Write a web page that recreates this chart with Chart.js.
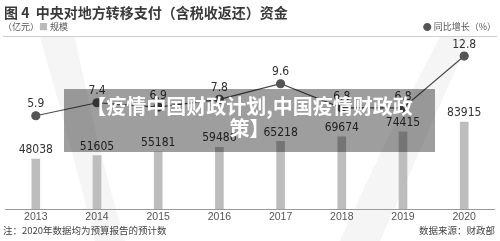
<!DOCTYPE html>
<html>
<head>
<meta charset="utf-8">
<script src="https://cdn.jsdelivr.net/npm/chart.js@4/dist/chart.umd.min.js"></script>
<style>
  html, body { margin: 0; padding: 0; background: #fff; }
  #wrap { position: relative; width: 500px; height: 241px; overflow: hidden; font-family: "Noto Sans CJK SC", "Noto Sans", sans-serif; }
  #bg { position: absolute; left: 0; top: 0; }
  canvas#c { position: absolute; left: 0; top: 0; }
  .t { position: absolute; white-space: nowrap; }
  #title { left: 4px; top: 3px; font-size: 14px; font-weight: bold; color: #3a3a3a; line-height: 18px; }
  #unit { left: 3px; top: 21px; font-size: 9px; color: #555; line-height: 12px; }
  #legR { right: 4px; top: 21px; font-size: 9px; color: #555; line-height: 12px; }
  #rule { position: absolute; left: 3px; top: 36px; width: 494px; height: 1px; background: #cfcfcf; }
  #note { left: 3px; top: 224px; font-size: 9.5px; color: #444; line-height: 12px; }
  #src { right: 5px; top: 224px; font-size: 9.5px; color: #444; line-height: 12px; }
  #overlay { position: absolute; left: 64px; top: 89px; width: 371px; height: 63px; background: rgba(0,0,0,0.38); color: #fff; font-weight: bold; font-size: 20px; line-height: 21.5px; text-align: center; padding-top: 6px; box-sizing: border-box; white-space: nowrap; }
</style>
</head>
<body>
<div id="wrap">
  <svg id="bg" width="500" height="241">
    <path d="M40 37 Q70 140 95 241 L125 241 Q95 140 75 37 Z" fill="#f5f5f5"/>
    <path d="M440 37 Q380 150 340 241 L380 241 Q420 150 470 37 Z" fill="#f5f5f5"/>
  </svg>
  <canvas id="c" width="500" height="241"></canvas>
  <div class="t" id="title">图 4&nbsp; 中央对地方转移支付（含税收返还）资金</div>
  <div class="t" id="unit">（亿元）<span style="color:#bbb">■</span> 规模</div>
  <div class="t" id="legR"><span style="color:#555">●</span> 同比增长（%）</div>
  <div id="rule"></div>
  <div class="t" id="note">注：2020年数据均为预算报告的预计数</div>
  <div class="t" id="src">数据来源：财政部</div>
  <div id="overlay">【疫情中国财政计划,中国疫情财政政<br>策】</div>
</div>
<script>
const categories = ["2013", "2014", "2015", "2016", "2017", "2018", "2019", "2020"];
const scaleValues = [48038, 51605, 55181, 59486, 65218, 69674, 74415, 83915];
const growthValues = [5.9, 7.4, 6.9, 7.8, 9.6, 6.8, 6.8, 12.8];

const labelFont = '12px "Liberation Sans Narrow", "DejaVu Sans Condensed", sans-serif';

const valueLabels = {
  id: 'valueLabels',
  afterDatasetsDraw(chart) {
    const ctx = chart.ctx;
    ctx.save();
    ctx.font = labelFont;
    ctx.fillStyle = '#333';
    ctx.textAlign = 'center';
    ctx.textBaseline = 'middle';
    chart.data.datasets.forEach((ds, i) => {
      const meta = chart.getDatasetMeta(i);
      meta.data.forEach((el, j) => {
        const off = ds.type === 'bar' ? 9 : 11.5;
        ctx.fillText(String(ds.data[j]), el.x, el.y - off);
      });
    });
    ctx.restore();
  }
};

new Chart(document.getElementById('c'), {
  data: {
    labels: categories,
    datasets: [
      {
        type: 'line',
        label: '同比增长（%）',
        data: growthValues,
        yAxisID: 'yl',
        order: 0,
        borderColor: '#4a4a4a',
        borderWidth: 1.2,
        pointBackgroundColor: '#555',
        pointBorderColor: '#555',
        pointRadius: 4,
        tension: 0
      },
      {
        type: 'bar',
        label: '规模',
        data: scaleValues,
        yAxisID: 'yb',
        order: 1,
        backgroundColor: '#bdbdbd',
        barThickness: 8
      }
    ]
  },
  options: {
    responsive: false,
    devicePixelRatio: 1,
    animation: false,
    layout: { padding: { top: 39, left: 2, right: 3, bottom: 0 } },
    plugins: { legend: { display: false }, tooltip: { enabled: false } },
    scales: {
      x: {
        grid: { display: false, drawTicks: false },
        border: { display: true, color: '#9a9a9a', width: 1 },
        ticks: { color: '#555', font: { family: '"Liberation Sans", Arial, sans-serif', size: 10.5 }, padding: 2 },
        afterFit(scale) { scale.height = 32; }
      },
      yb: { display: false, min: 0, max: 164000 },
      yl: { display: false, min: -4.88, max: 14.77 }
    }
  },
  plugins: [valueLabels]
});
</script>
</body>
</html>
